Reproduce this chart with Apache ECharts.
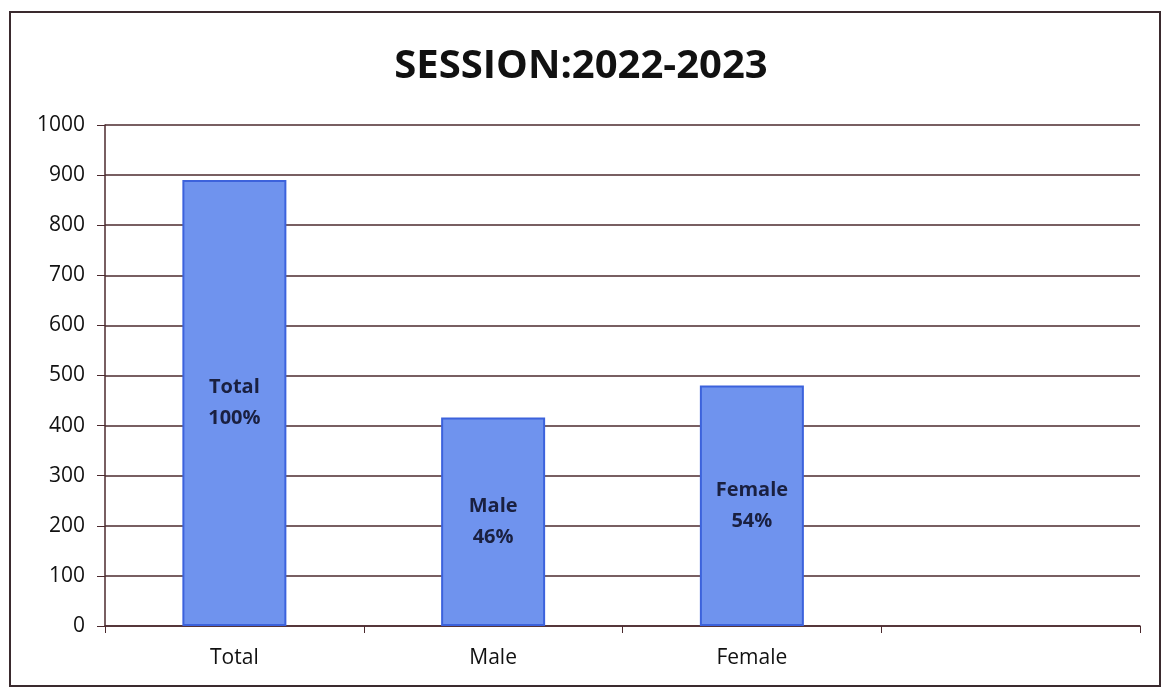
<!DOCTYPE html>
<html>
<head>
<meta charset="utf-8">
<script src="https://cdn.jsdelivr.net/npm/echarts@6/dist/echarts.min.js"></script>
<style>
  html, body { margin: 0; padding: 0; background: #fff; }
  #chart { width: 1162px; height: 689px; }
</style>
</head>
<body>
<div id="chart"></div>
<script>
  // values
  const categories = ['Total', 'Male', 'Female', '']
  const students = [890, 416, 480]
  const barLabels = ['Total\n100%', 'Male\n46%', 'Female\n54%']
  const yTicks = { min: 0, max: 1000, interval: 100 }

  const font = '"Open Sans", "Noto Sans", sans-serif'
  const lineColor = '#4b2a2e'

  const chart = echarts.init(document.getElementById('chart'))
  chart.setOption({
    animation: false,
    backgroundColor: '#fff',
    title: {
      text: 'SESSION:2022-2023',
      left: 'center',
      top: 42,
      textStyle: { fontFamily: font, fontSize: 40, fontWeight: 'bold', color: '#111' }
    },
    graphic: [{
      type: 'rect',
      shape: { x: 10, y: 12, width: 1150, height: 674 },
      style: { fill: 'none', stroke: '#3a2a2e', lineWidth: 2 }
    }],
    grid: { left: 105, right: 22, top: 125, bottom: 63 },
    xAxis: {
      type: 'category',
      data: categories,
      axisLine: { lineStyle: { color: lineColor, width: 1.5 } },
      axisTick: { show: true, length: 7, lineStyle: { color: lineColor } },
      axisLabel: { fontFamily: font, fontSize: 21, color: '#111', margin: 22 }
    },
    yAxis: {
      type: 'value',
      min: yTicks.min,
      max: yTicks.max,
      interval: yTicks.interval,
      axisLine: { show: true, lineStyle: { color: lineColor, width: 1.5 } },
      axisTick: { show: true, length: 8, lineStyle: { color: lineColor } },
      axisLabel: { fontFamily: font, fontSize: 21, color: '#111', margin: 20, formatter: v => String(v) },
      splitLine: { lineStyle: { color: lineColor, width: 1.5 } }
    },
    series: [{
      type: 'bar',
      data: students,
      barWidth: 104,
      itemStyle: { color: '#6f93ee', borderColor: '#3c62dc', borderWidth: 2 },
      label: {
        show: true,
        position: 'inside',
        formatter: p => barLabels[p.dataIndex],
        fontFamily: font,
        fontSize: 20,
        fontWeight: 'bold',
        lineHeight: 31,
        color: '#1a2040'
      }
    }]
  })
</script>
</body>
</html>
